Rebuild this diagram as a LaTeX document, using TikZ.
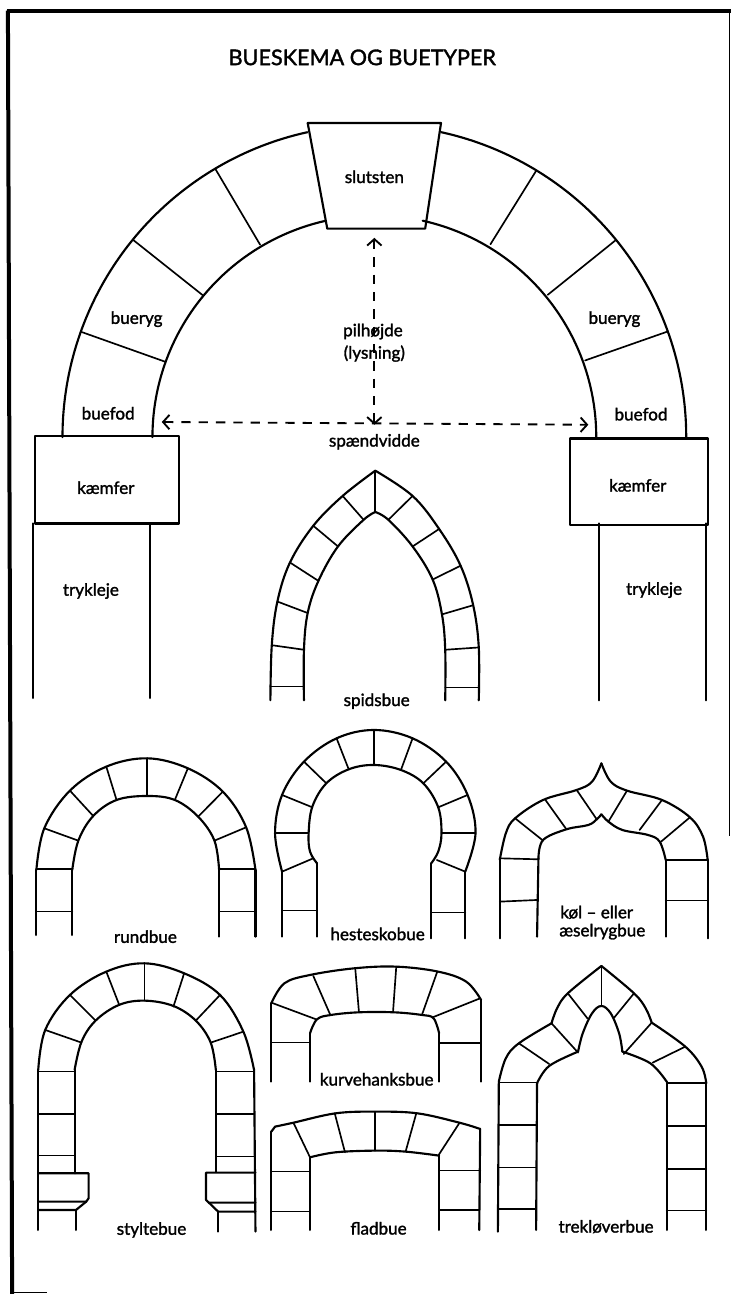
\documentclass[tikz,border=0pt]{standalone}
\usepackage{fontspec}
\setmainfont{Lato}
\newfontfamily\archfont[FakeBold=1.6]{Lato}
\usepackage{tikz}
\usetikzlibrary{arrows.meta}
\newcommand{\stonecurve}[1]{\draw[wall] plot[smooth,tension=.6] coordinates {#1};}
\newcommand{\mainarc}[4]{\draw[wall] plot[domain=#3:#4,samples=40,smooth]
    ({803+#1*cos(\x)},{952+#2*sin(\x)});}

\begin{document}
\begin{tikzpicture}[
      x=.34965pt, y=-.3444pt,
      wall/.style={line width=1.6pt, line cap=round, line join=round},
      joint/.style={line width=1.25pt, line cap=round},
      frameline/.style={line width=3pt},
      lbl/.style={font=\archfont\fontsize{12.8}{14}\selectfont, inner sep=0pt},
      titlelbl/.style={font=\archfont\fontsize{16.2}{18}\selectfont, inner sep=0pt},
      dimarr/.style={{Straight Barb[length=1.7mm,width=3.8mm]}-{Straight Barb[length=1.7mm,width=3.8mm]},
                     line width=1.4pt, dash pattern=on 7pt off 6pt},
      lowrow/.style={y=-.25pt, yshift=-540pt},
      lastrow/.style={y=-.25pt, yshift=-735pt}]
    \useasboundingbox (0,0) rectangle (1568,2818);
    \fill[white] (0,0) rectangle (1568,2818);

    % frame
    \draw[frameline] (15,23) -- (1568,23);
    \draw[frameline] (17,23) -- (26,2818);
    \draw[line width=1.3pt] (1565,23) -- (1565,1820);
    \draw[line width=.7pt] (28,2814) -- (100,2814);
    \node[titlelbl] (title) at (777,125) {BUESKEMA OG BUETYPER};

    % big arch
    \mainarc{669}{680}{180}{257.6}
    \mainarc{669}{680}{282.4}{360}
    \mainarc{476}{483}{180}{257.4}
    \mainarc{476}{483}{282.6}{360}
    \draw[wall] (660,268) -- (946,268) -- (912,498) -- (702,498) -- cycle;
    \foreach \xa/\ya/\xb/\yb in {462/368/558/533, 285/522/435/643, 175/723/355/788,
        1150/372/1052/532, 1322/522/1175/642, 1432/722/1255/785}
      \draw[joint] (\xa,\ya) -- (\xb,\yb);
    \draw[wall] (75,950) rectangle (384,1140);
    \draw[wall] (1222,955) rectangle (1518,1143);
    \foreach \xa/\xb in {70/1520, 322/1520, 1285/1525, 1515/1525}
      \draw[wall] (\xa,1140) -- (\xa,\xb);
    \coordinate (apex) at (803,518);
    \coordinate (base) at (803,925);
    \coordinate (spanl) at (347,919);
    \coordinate (spanr) at (1262,925);
    \draw[dimarr] (apex) -- (base);
    \draw[dimarr] (spanl) -- (spanr);
    \node[lbl] (slut) at (803,385) {slutsten};
    \node[lbl] (rygl) at (293,695) {bueryg};
    \node[lbl] (rygr) at (1318,695) {bueryg};
    \node[lbl] (fodl) at (232,900) {buefod};
    \node[lbl] (fodr) at (1375,902) {buefod};
    \node[lbl] (kaml) at (227,1062) {kæmfer};
    \node[lbl] (kamr) at (1368,1057) {kæmfer};
    \node[lbl] (tryl) at (195,1287) {trykleje};
    \node[lbl] (tryr) at (1403,1285) {trykleje};
    \node[lbl] (pil) at (800,722) {pilhøjde};
    \node[lbl] (lys) at (803,770) {(lysning)};
    \node[lbl] (span) at (803,962) {spændvidde};

    % spidsbue
    \stonecurve{(805,1025) (735,1080) (672,1145) (622,1225) (595,1310) (583,1405) (580,1525)}
    \stonecurve{(805,1115) (780,1132) (725,1190) (683,1265) (660,1335) (652,1415) (652,1525)}
    \stonecurve{(805,1025) (885,1080) (942,1152) (988,1232) (1015,1318) (1027,1410) (1027,1525)}
    \stonecurve{(805,1115) (833,1132) (885,1190) (928,1262) (948,1338) (955,1415) (955,1525)}
    \foreach \xa/\ya/\xb/\yb in {805/1025/805/1115, 735/1080/780/1132, 672/1145/725/1190,
        622/1225/683/1265, 595/1310/660/1335, 583/1405/652/1415, 580/1495/652/1495,
        885/1080/833/1132, 942/1152/885/1190, 988/1232/928/1262, 1015/1318/948/1338,
        1027/1410/955/1415, 1027/1497/955/1497}
      \draw[joint] (\xa,\ya) -- (\xb,\yb);
    \node[lbl] (spids) at (808,1527) {spidsbue};

    \begin{scope}[lowrow]
      % rundbue
      \stonecurve{(78,450) (95,325) (150,212) (228,140) (316,115) (403,145) (478,215) (528,322) (548,450)}
      \stonecurve{(155,450) (168,362) (200,288) (250,240) (316,228) (375,240) (425,290) (460,362) (470,450)}
      \foreach \xa/\ya/\xb/\yb in {78/450/78/645, 155/450/155/645, 470/450/470/650, 548/450/548/650}
        \draw[wall] (\xa,\ya) -- (\xb,\yb);
      \foreach \xa/\ya/\xb/\yb in {78/575/155/575, 78/448/155/448, 95/325/168/362,
          150/212/200/288, 228/140/250/240, 316/115/316/228, 403/145/375/240,
          478/215/425/290, 528/322/460/362, 548/448/470/448, 548/575/470/575}
        \draw[joint] (\xa,\ya) -- (\xb,\yb);
      \node[lbl] (rund) at (312,650) {rundbue};

      % hesteskobue
      \stonecurve{(605,455) (590,340) (605,225) (652,125) (722,55) (802,30) (885,55) (957,125) (1003,225) (1020,340) (998,455)}
      \stonecurve{(680,430) (665,395) (662,340) (670,260) (700,190) (748,148) (802,135) (860,150) (908,190) (940,262) (947,340) (940,395) (925,430)}
      \foreach \xa/\ya/\xb/\yb in {605/455/605/650, 680/430/680/650, 925/430/925/655, 998/455/998/655}
        \draw[wall] (\xa,\ya) -- (\xb,\yb);
      \foreach \xa/\ya/\xb/\yb in {605/572/680/572, 605/455/672/415, 590/340/662/340,
          605/225/670/262, 652/125/700/190, 722/55/748/148, 802/30/802/135,
          885/55/860/150, 957/125/908/190, 1003/225/940/262, 1020/340/947/340,
          998/455/937/420, 998/578/925/578}
        \draw[joint] (\xa,\ya) -- (\xb,\yb);
      \node[lbl] (heste) at (810,642) {hesteskobue};

      % køl- eller æselrygbue
      \stonecurve{(1072,420) (1085,340) (1105,295) (1165,240) (1237,210) (1270,185) (1290,130)}
      \stonecurve{(1290,130) (1310,185) (1345,212) (1420,240) (1480,292) (1508,350) (1518,420)}
      \stonecurve{(1155,415) (1165,360) (1215,328) (1262,315) (1280,298) (1290,283)}
      \stonecurve{(1290,283) (1305,305) (1335,330) (1390,345) (1415,365) (1428,420)}
      \foreach \xa/\ya/\xb/\yb in {1072/420/1072/655, 1155/415/1152/650, 1428/420/1428/650, 1518/420/1518/655}
        \draw[wall] (\xa,\ya) -- (\xb,\yb);
      \foreach \xa/\ya/\xb/\yb in {1072/415/1155/418, 1072/545/1152/540, 1105/295/1165/362,
          1170/240/1215/328, 1237/210/1280/298, 1345/212/1305/305, 1420/240/1372/330,
          1480/292/1418/365, 1518/420/1428/420, 1518/542/1428/542}
        \draw[joint] (\xa,\ya) -- (\xb,\yb);
      \node[lbl] (kol) at (1280,577) {køl – eller};
      \node[lbl] (aesel) at (1292,635) {æselrygbue};
    \end{scope}

    \begin{scope}[lastrow]
      % styltebue
      \stonecurve{(82,270) (97,150) (150,45) (228,-25) (310,-50) (395,-20) (472,45) (522,155) (545,270)}
      \stonecurve{(160,270) (175,185) (205,122) (255,75) (310,62) (372,78) (420,122) (452,188) (463,270)}
      \foreach \xa/\ya/\xb/\yb in {82/270/82/750, 160/270/160/580, 463/270/463/575, 545/270/548/755}
        \draw[wall] (\xa,\ya) -- (\xb,\yb);
      \foreach \xa/\ya/\xb/\yb in {82/275/160/275, 82/402/160/402, 82/527/160/527,
          97/150/175/188, 150/45/205/122, 228/-25/255/72, 310/-50/310/62,
          395/-20/372/80, 472/45/420/122, 522/155/452/188, 545/275/463/275,
          545/403/463/403, 545/530/463/530}
        \draw[joint] (\xa,\ya) -- (\xb,\yb);
      \draw[wall] (82,580) -- (190,580) -- (190,655) -- (185,665) -- (82,665);
      \draw[wall] (185,665) -- (163,690) -- (82,690);
      \draw[wall] (163,690) -- (163,750);
      \draw[wall] (548,578) -- (442,578) -- (442,660) -- (448,668) -- (548,668);
      \draw[wall] (448,668) -- (468,695) -- (548,695);
      \draw[wall] (468,695) -- (468,755);
      \node[lbl] (stylte) at (325,750) {styltebue};

      % kurvehanksbue
      \stonecurve{(582,70) (610,10) (665,-15) (760,-35) (850,-40) (940,-25) (1000,5) (1032,60)}
      \stonecurve{(665,160) (680,118) (710,105) (770,97) (845,97) (905,105) (930,115) (942,160)}
      \foreach \xa/\ya/\xb/\yb in {582/70/582/305, 665/160/665/305, 942/160/942/305, 1032/60/1032/305}
        \draw[wall] (\xa,\ya) -- (\xb,\yb);
      \foreach \xa/\ya/\xb/\yb in {582/188/665/188, 582/68/678/118, 672/-12/708/103,
          762/-35/770/97, 850/-40/843/97, 938/-25/905/105, 1030/55/928/112, 1032/190/942/190}
        \draw[joint] (\xa,\ya) -- (\xb,\yb);
      \node[lbl] (kurve) at (808,298) {kurvehanksbue};

      % fladbue
      \stonecurve{(590,440) (630,428) (720,400) (805,395) (895,400) (985,428) (1030,447)}
      \stonecurve{(665,532) (720,517) (805,512) (870,515) (942,527)}
      \foreach \xa/\ya/\xb/\yb in {590/440/582/455, 582/455/582/750, 1030/447/1028/750,
          665/532/665/750, 942/527/942/750}
        \draw[wall] (\xa,\ya) -- (\xb,\yb);
      \foreach \xa/\ya/\xb/\yb in {582/575/665/575, 582/695/665/695, 630/430/665/532,
          718/400/740/517, 805/395/805/512, 893/400/870/515, 985/430/940/527,
          1030/572/942/572, 1028/690/942/690}
        \draw[joint] (\xa,\ya) -- (\xb,\yb);
      \node[lbl] (flad) at (812,745) {fladbue};

      % trekløverbue
      \stonecurve{(1070,305) (1085,235) (1113,190) (1183,130)}
      \stonecurve{(1183,130) (1195,85) (1218,40) (1290,-42)}
      \stonecurve{(1290,-42) (1360,40) (1385,85) (1398,128)}
      \stonecurve{(1398,128) (1470,200) (1505,260) (1515,310)}
      \stonecurve{(1152,310) (1178,258) (1240,215)}
      \stonecurve{(1240,215) (1250,160) (1270,100) (1290,78) (1310,100) (1328,160) (1335,215)}
      \stonecurve{(1335,215) (1395,250) (1430,305)}
      \foreach \xa/\ya/\xb/\yb in {1070/305/1068/755, 1152/310/1150/750, 1430/305/1430/750, 1515/310/1515/750}
        \draw[wall] (\xa,\ya) -- (\xb,\yb);
      \foreach \xa/\ya/\xb/\yb in {1070/308/1152/308, 1070/435/1150/435, 1070/563/1150/563,
          1068/688/1150/688, 1113/190/1178/252, 1183/130/1240/218, 1218/40/1260/115,
          1290/-42/1290/78, 1360/40/1318/112, 1398/128/1338/222, 1470/200/1400/248,
          1515/310/1430/310, 1515/438/1430/438, 1515/568/1430/568, 1515/692/1430/692}
        \draw[joint] (\xa,\ya) -- (\xb,\yb);
      \node[lbl] (trekl) at (1300,740) {trekløverbue};
    \end{scope}
  \end{tikzpicture}
\end{document}
